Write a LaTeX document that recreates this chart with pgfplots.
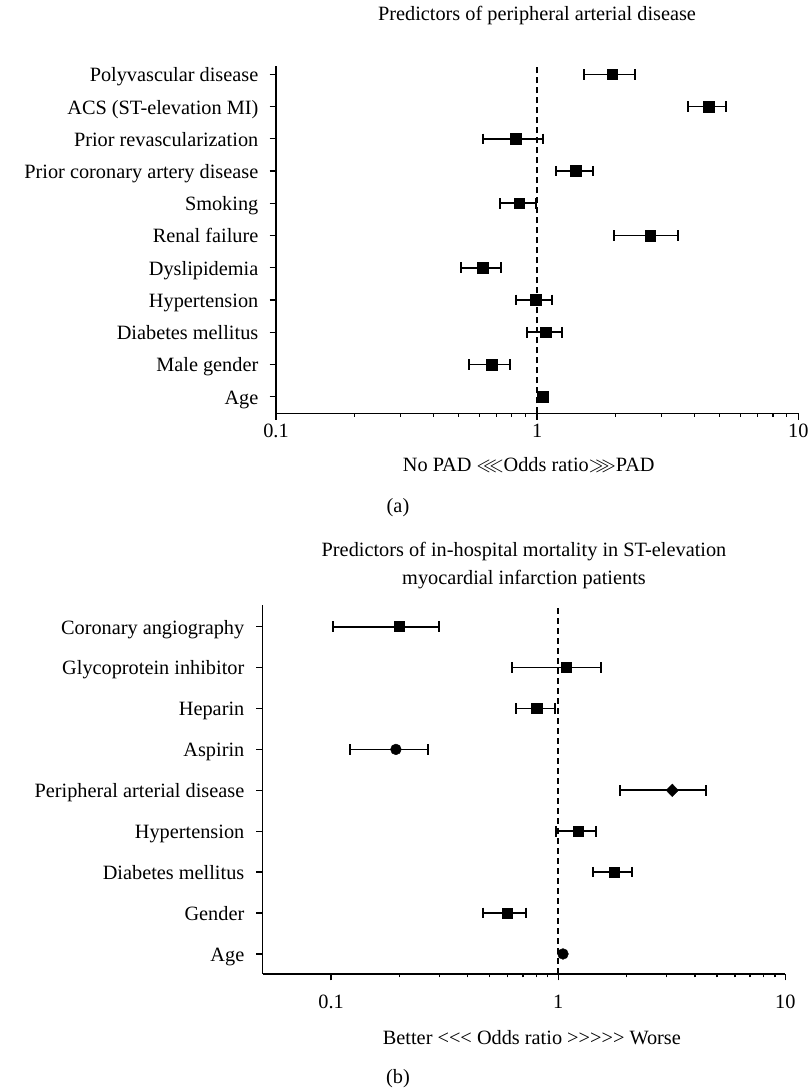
\documentclass[border=0pt]{standalone}
\usepackage{fontspec}
\setmainfont{Liberation Serif}
\usepackage{amssymb}
\usepackage{pgfplots}
\pgfplotsset{compat=1.18}
\newcommand{\lbl}{\fontsize{20.3pt}{24pt}\selectfont}
\pgfplotsset{
  cistyle/.style={black, line width=1.7pt, mark=|, mark size=5.3pt, mark options={line width=2pt, solid}},
  refline/.style={black, line width=1.4pt, dash pattern=on 6pt off 4pt},
}
\newcommand{\ci}[3]{\addplot[cistyle] coordinates {(#1,#3) (#2,#3)};}
\begin{document}
\begin{tikzpicture}[x=1pt,y=1pt]
\useasboundingbox (0,0) rectangle (808,1088);
% ---------- panel (a)
\begin{axis}[at={(276pt,674.7pt)}, anchor=south west,
  scale only axis, width=522.3pt, height=347.3pt,
  xmode=log, log basis x=10,
  axis x line*=bottom, axis y line*=left,
  tick align=outside, major tick length=6.5pt, minor tick length=3.5pt,
  xtick={0.1,1,10}, xticklabels={0.1,1,10},
  minor xtick={0.2,0.3,0.4,0.5,0.6,0.7,0.8,0.9,2,3,4,5,6,7,8,9},
  tick label style={font=\lbl},
  axis line style={line width=1.3pt, black},
  tick style={black, line width=1.3pt},
  clip=false,
  xmin=0.1, xmax=10, ymin=-0.515, ymax=10.26,
  ytick={0,1,2,3,4,5,6,7,8,9,10},
  yticklabels={Age,Male gender,Diabetes mellitus,Hypertension,Dyslipidemia,Renal failure,Smoking,Prior coronary artery disease,Prior revascularization,ACS (ST-elevation MI),Polyvascular disease},
  yticklabel style={anchor=base east, inner sep=0pt, xshift=-11pt, yshift=-7.4pt},
  xticklabel style={anchor=base, inner sep=0pt, yshift=-18pt},
]
\addplot[refline] coordinates {(1,-0.515) (1,10.26)};
\ci{1.51}{2.38}{10}
\ci{3.78}{5.28}{9}
\ci{0.62}{1.05}{8}
\ci{1.18}{1.64}{7}
\ci{0.72}{0.99}{6}
\ci{1.97}{3.46}{5}
\ci{0.51}{0.73}{4}
\ci{0.83}{1.14}{3}
\ci{0.916}{1.25}{2}
\ci{0.55}{0.785}{1}
\addplot[only marks, mark=square*, mark size=5.4pt, mark options={black, fill=black, line width=0.6pt}] coordinates {
(1.94,10) (4.53,9) (0.83,8) (1.41,7) (0.855,6) (2.71,5) (0.62,4) (0.985,3) (1.08,2) (0.67,1) (1.05,0)};
\end{axis}
\node[font=\lbl, anchor=base] at (537,1088-20.5) {Predictors of peripheral arterial disease};
\node[font=\lbl, anchor=base west, inner sep=0pt] at (402.7,1088-471.7) {No PAD {$\lll$}Odds ratio{$\ggg$}PAD};
\node[font=\lbl, anchor=base] at (398,1088-513) {(a)};
% ---------- panel (b)
\begin{axis}[at={(262.7pt,114pt)}, anchor=south west,
  scale only axis, width=522.6pt, height=369pt,
  xmode=log, log basis x=10,
  axis x line*=bottom, axis y line*=left,
  tick align=outside, major tick length=6.5pt, minor tick length=3.5pt,
  xtick={0.1,1,10}, xticklabels={0.1,1,10},
  minor xtick={0.2,0.3,0.4,0.5,0.6,0.7,0.8,0.9,2,3,4,5,6,7,8,9},
  tick label style={font=\lbl},
  axis line style={line width=1.3pt, black},
  tick style={black, line width=1.3pt},
  clip=false,
  xmin=0.05, xmax=10, ymin=-0.49, ymax=8.53,
  ytick={0,1,2,3,4,5,6,7,8},
  yticklabels={Age,Gender,Diabetes mellitus,Hypertension,Peripheral arterial disease,Aspirin,Heparin,Glycoprotein inhibitor,Coronary angiography},
  yticklabel style={anchor=base east, inner sep=0pt, xshift=-11.7pt, yshift=-7.4pt},
  xticklabel style={anchor=base, inner sep=0pt, yshift=-28pt},
]
\addplot[refline] coordinates {(1,-0.49) (1,8.53)};
\ci{0.102}{0.298}{8}
\ci{0.625}{1.55}{7}
\ci{0.65}{0.968}{6}
\ci{0.121}{0.266}{5}
\ci{1.88}{4.48}{4}
\ci{0.982}{1.46}{3}
\ci{1.42}{2.11}{2}
\ci{0.467}{0.725}{1}
\addplot[only marks, mark=square*, mark size=5.1pt, mark options={black, fill=black, line width=0.6pt}] coordinates {
(0.20,8) (1.087,7) (0.805,6) (1.224,3) (1.77,2) (0.597,1)};
\addplot[only marks, mark=*, mark size=5.4pt, mark options={black, fill=black}] coordinates {
(0.193,5) (1.05,0)};
\addplot[only marks, mark=diamond*, mark size=6.3pt, mark options={black, fill=black, xscale=1.3}] coordinates {
(3.18,4)};
\end{axis}
\node[font=\lbl, anchor=base] at (524,1088-556.7) {Predictors of in-hospital mortality in ST-elevation};
\node[font=\lbl, anchor=base] at (524,1088-584.3) {myocardial infarction patients};
\node[font=\lbl, anchor=base west, inner sep=0pt] at (382.7,1088-1045) {Better <\kern0pt<\kern0pt< Odds ratio >\kern0pt>\kern0pt>\kern0pt>\kern0pt> Worse};
\node[font=\lbl, anchor=base] at (398,1088-1083) {(b)};
\end{tikzpicture}
\end{document}
